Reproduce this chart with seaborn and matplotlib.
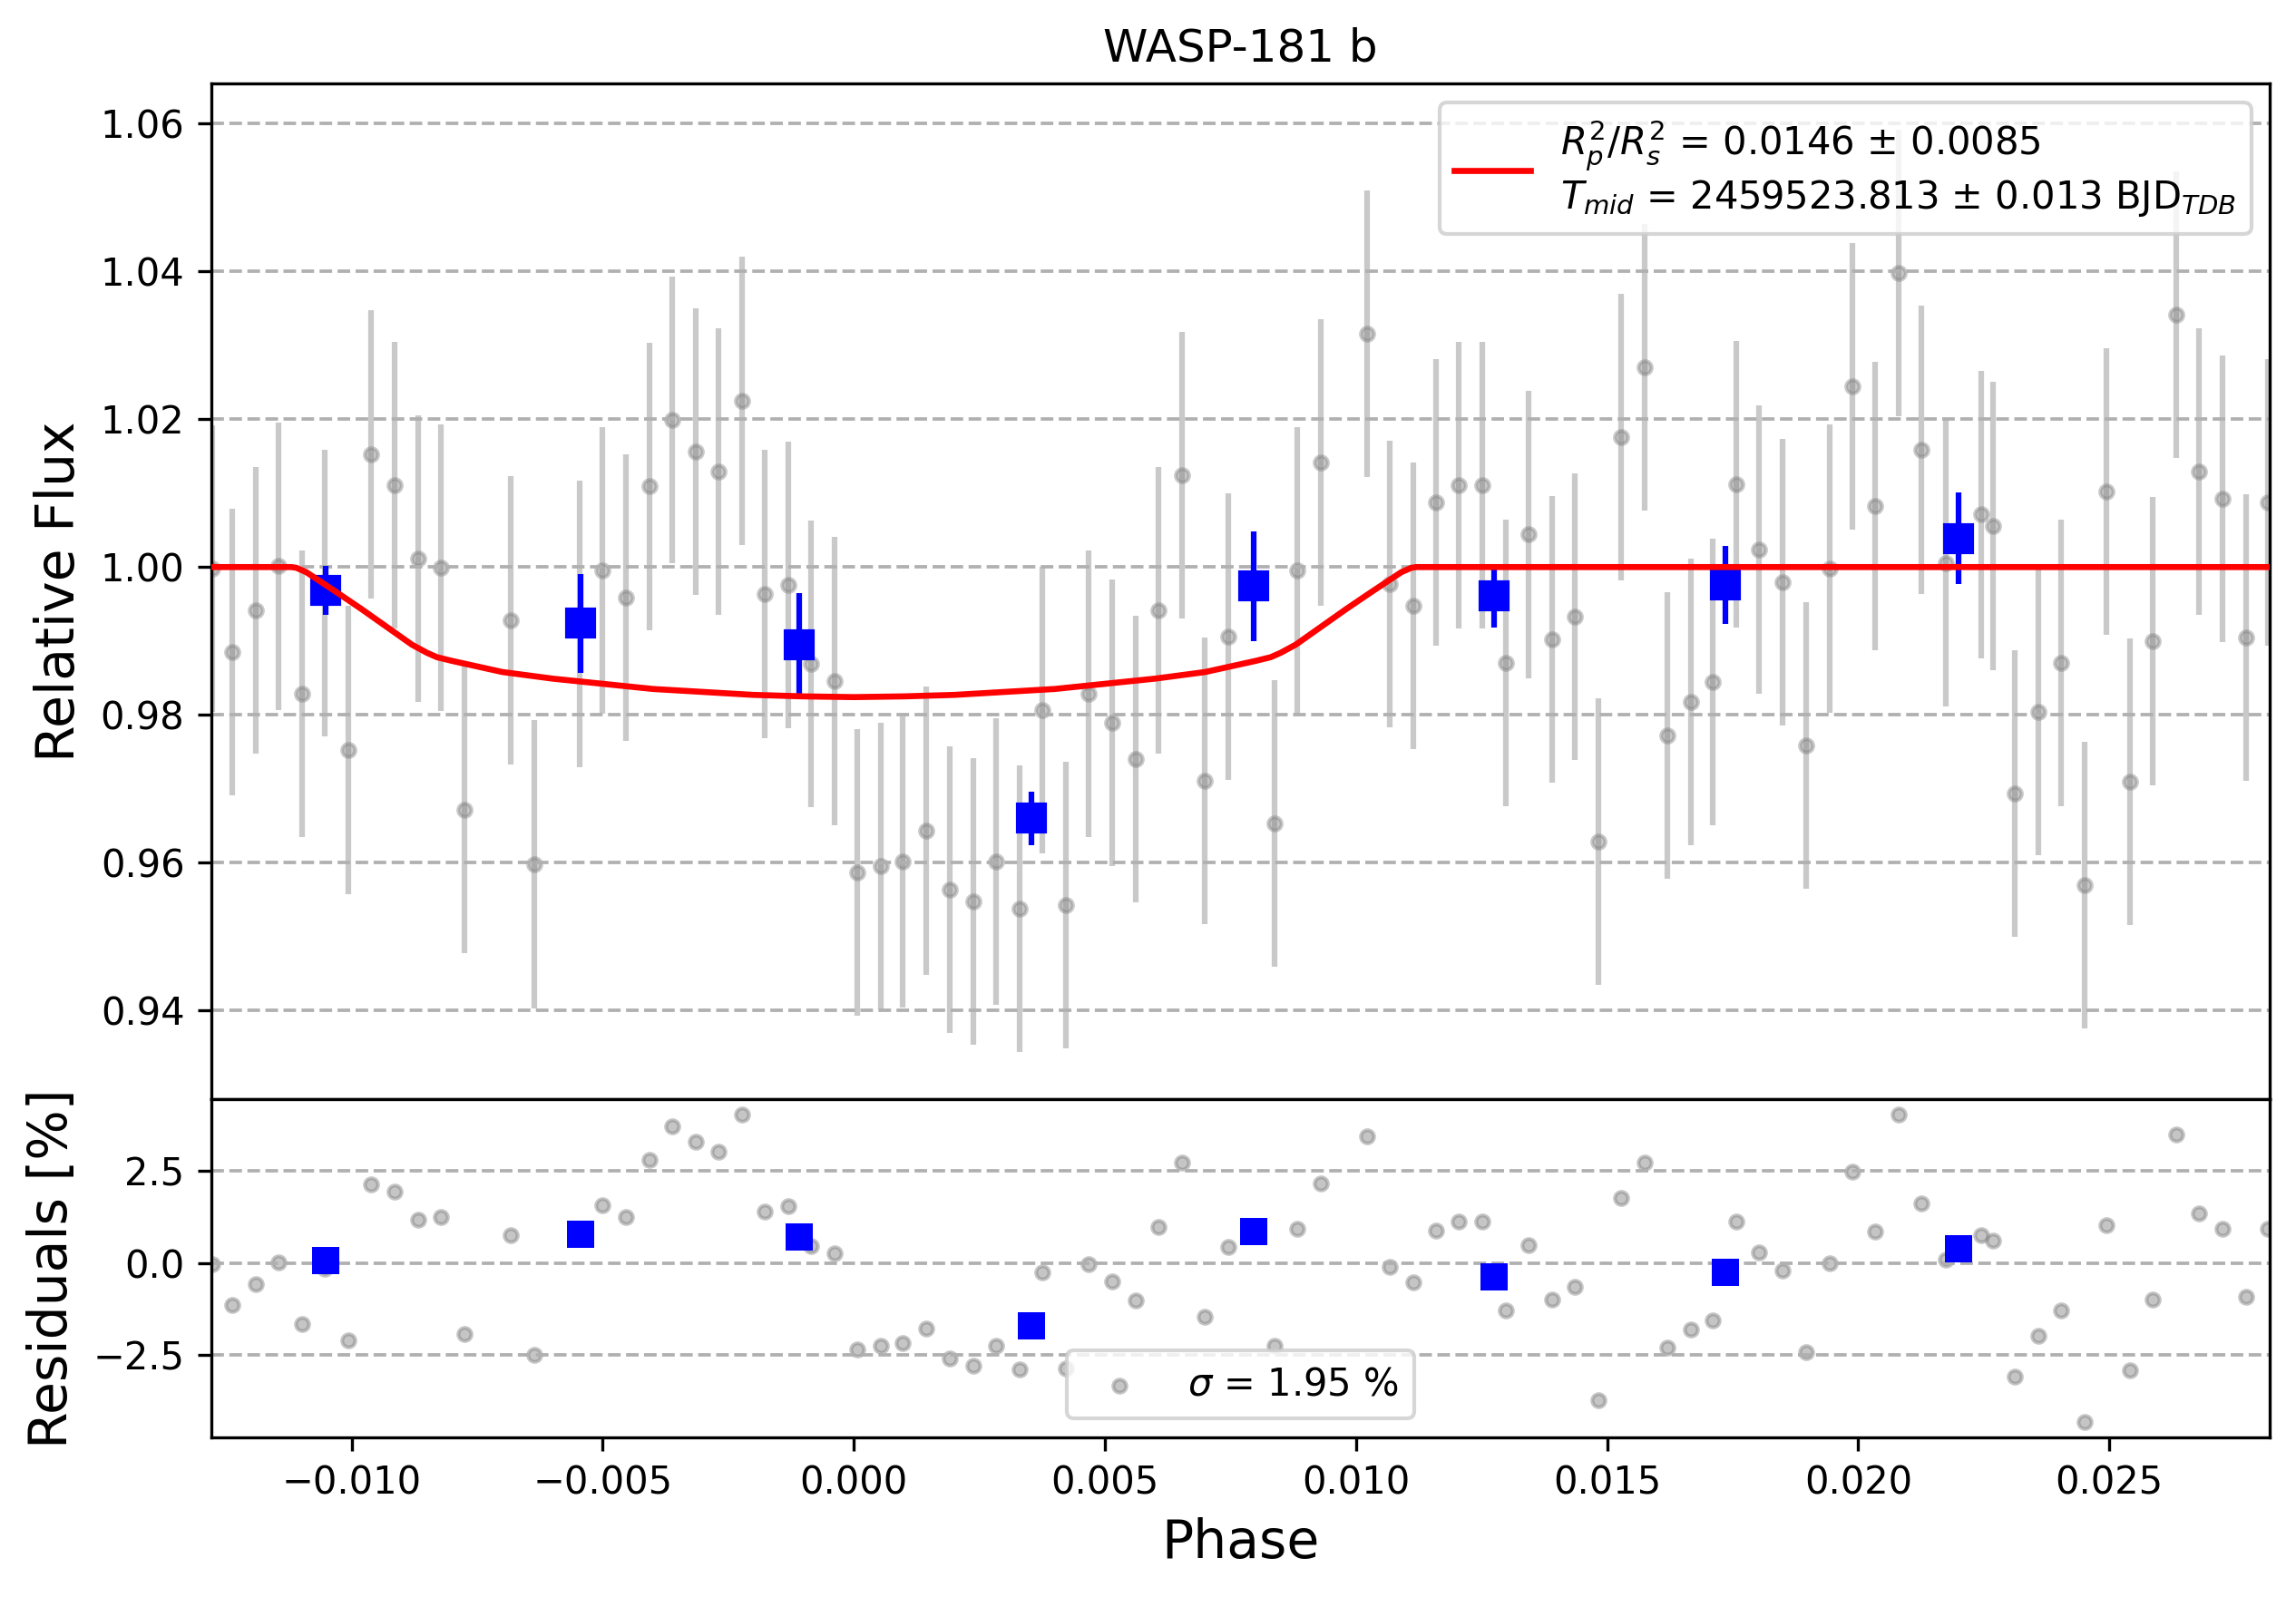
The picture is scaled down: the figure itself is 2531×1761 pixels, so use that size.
import numpy as np
import pandas as pd
import matplotlib
matplotlib.use('Agg')
import matplotlib.pyplot as plt
import seaborn as sns

# unbinned light curve
phase = [-0.01277, -0.01237, -0.01191, -0.01145, -0.01098, -0.01053, -0.01006, -0.00961,
         -0.00915, -0.00868, -0.00822, -0.00776, -0.00683, -0.00637, -0.00546, -0.00500,
         -0.00454, -0.00407, -0.00362, -0.00315, -0.00270, -0.00223, -0.00178, -0.00131,
         -0.00086, -0.00039, 0.00007, 0.00053, 0.00098, 0.00144, 0.00191, 0.00238,
         0.00283, 0.00330, 0.00375, 0.00422, 0.00468, 0.00514, 0.00561, 0.00607,
         0.00653, 0.00699, 0.00746, 0.00838, 0.00883, 0.00930, 0.01022, 0.01067,
         0.01114, 0.01159, 0.01205, 0.01251, 0.01298, 0.01344, 0.01390, 0.01436,
         0.01482, 0.01528, 0.01574, 0.01620, 0.01667, 0.01711, 0.01758, 0.01803,
         0.01850, 0.01896, 0.01943, 0.01988, 0.02034, 0.02081, 0.02126, 0.02174,
         0.02244, 0.02269, 0.02311, 0.02358, 0.02403, 0.02450, 0.02495, 0.02542,
         0.02587, 0.02634, 0.02679, 0.02726, 0.02772, 0.02816]
flux = [0.9998, 0.9885, 0.9941, 1.0001, 0.9828, 0.9965, 0.9752, 1.0153,
        1.0111, 1.0011, 0.9999, 0.9672, 0.9928, 0.9598, 0.9923, 0.9995,
        0.9959, 1.0109, 1.0199, 1.0156, 1.0129, 1.0225, 0.9964, 0.9976,
        0.9869, 0.9846, 0.9587, 0.9595, 0.9601, 0.9643, 0.9563, 0.9547,
        0.9601, 0.9538, 0.9806, 0.9543, 0.9829, 0.9789, 0.9740, 0.9941,
        1.0124, 0.9711, 0.9906, 0.9653, 0.9995, 1.0141, 1.0316, 0.9977,
        0.9948, 1.0087, 1.0111, 1.0111, 0.9870, 1.0044, 0.9902, 0.9933,
        0.9629, 1.0176, 1.0270, 0.9772, 0.9817, 0.9844, 1.0112, 1.0024,
        0.9979, 0.9759, 0.9998, 1.0245, 1.0083, 1.0398, 1.0159, 1.0005,
        1.0071, 1.0056, 0.9694, 0.9804, 0.9870, 0.9570, 1.0102, 0.9709,
        0.9900, 1.0342, 1.0129, 1.0092, 0.9905, 1.0087]
flux_err = [0.0194, 0.0194, 0.0194, 0.0195, 0.0194, 0.0194, 0.0195, 0.0195,
            0.0194, 0.0194, 0.0194, 0.0194, 0.0195, 0.0195, 0.0194, 0.0194,
            0.0194, 0.0195, 0.0194, 0.0194, 0.0194, 0.0195, 0.0195, 0.0194,
            0.0194, 0.0195, 0.0194, 0.0194, 0.0197, 0.0195, 0.0194, 0.0194,
            0.0194, 0.0194, 0.0194, 0.0194, 0.0194, 0.0194, 0.0194, 0.0194,
            0.0194, 0.0194, 0.0194, 0.0194, 0.0194, 0.0194, 0.0194, 0.0194,
            0.0194, 0.0194, 0.0194, 0.0194, 0.0194, 0.0194, 0.0194, 0.0194,
            0.0194, 0.0194, 0.0194, 0.0194, 0.0194, 0.0194, 0.0194, 0.0195,
            0.0194, 0.0194, 0.0195, 0.0194, 0.0195, 0.0194, 0.0195, 0.0194,
            0.0194, 0.0195, 0.0194, 0.0194, 0.0194, 0.0194, 0.0194, 0.0194,
            0.0195, 0.0194, 0.0194, 0.0194, 0.0194, 0.0194]
residuals = [-0.04, -1.13, -0.57, 0.02, -1.66, -0.15, -2.11, 2.12,
             1.94, 1.16, 1.24, -1.93, 0.74, -2.50, 0.78, 1.57,
             1.25, 2.79, 3.70, 3.28, 3.02, 4.01, 1.40, 1.53,
             0.45, 0.25, -2.34, -2.25, -2.18, -1.78, -2.60, -2.78,
             -2.25, -2.89, -0.25, -2.87, -0.04, -0.49, -1.02, 0.97,
             2.73, -1.45, 0.44, -2.24, 0.93, 2.16, 3.44, -0.12,
             -0.52, 0.88, 1.12, 1.12, -1.30, 0.47, -0.99, -0.66,
             -3.71, 1.77, 2.73, -2.29, -1.81, -1.55, 1.13, 0.28,
             -0.20, -2.42, -0.02, 2.48, 0.86, 4.01, 1.62, 0.08,
             0.75, 0.60, -3.07, -1.97, -1.28, -4.32, 1.03, -2.91,
             -1.00, 3.49, 1.33, 0.93, -0.93, 0.92]

# transit model curve
model_phase = [-0.0128, -0.0112, -0.0111, -0.0109, -0.0107, -0.0103, -0.0098, -0.0093,
               -0.0088, -0.0085, -0.0083, -0.0080, -0.0070, -0.0060, -0.0050, -0.0040,
               -0.0030, -0.0020, -0.0010, 0.0000, 0.0010, 0.0020, 0.0030, 0.0040,
               0.0050, 0.0060, 0.0070, 0.0080, 0.0083, 0.0085, 0.0088, 0.0093,
               0.0098, 0.0103, 0.0107, 0.0109, 0.0111, 0.0112, 0.0282]
model_flux = [1.0000, 1.0000, 0.9999, 0.9993, 0.9984, 0.9966, 0.9943, 0.9919,
              0.9895, 0.9884, 0.9878, 0.9873, 0.9858, 0.9849, 0.9842, 0.9835,
              0.9831, 0.9827, 0.9825, 0.9824, 0.9825, 0.9827, 0.9831, 0.9835,
              0.9842, 0.9849, 0.9858, 0.9873, 0.9878, 0.9884, 0.9895, 0.9919,
              0.9943, 0.9966, 0.9984, 0.9993, 0.9999, 1.0000, 1.0000]

# binned points
bin_phase = [-0.01051, -0.00545, -0.00108, 0.00354, 0.00797, 0.01275, 0.01736, 0.02199]
bin_flux = [0.9968, 0.9924, 0.9895, 0.9660, 0.9974, 0.9961, 0.9976, 1.0039]
bin_err = [0.0033, 0.0067, 0.0070, 0.0036, 0.0074, 0.0043, 0.0053, 0.0062]
bin_res = [0.07, 0.78, 0.71, -1.70, 0.86, -0.37, -0.25, 0.39]

df = pd.DataFrame({'phase': phase, 'flux': flux, 'err': flux_err, 'res': residuals})
model = pd.DataFrame({'phase': model_phase, 'flux': model_flux})
binned = pd.DataFrame({'phase': bin_phase, 'flux': bin_flux, 'err': bin_err, 'res': bin_res})

fig, (ax_lc, ax_res) = plt.subplots(2, 1, figsize=(2531 / 300, 1761 / 300), dpi=300,
                                    gridspec_kw={'height_ratios': [3, 1]})
fig.subplots_adjust(left=0.0919, right=0.9887, top=0.9475, bottom=0.0999, hspace=0)

# light curve panel
ax_lc.errorbar(df['phase'], df['flux'], yerr=df['err'], fmt='o', color='gray',
               ms=3.5, alpha=0.42, zorder=1)
sns.lineplot(data=model, x='phase', y='flux', color='red', lw=1.6, sort=False,
             estimator=None, ax=ax_lc, zorder=5,
             label='$R_p^2/R_s^2$ = 0.0146 ± 0.0085\n$T_{mid}$ = 2459523.813 ± 0.013 BJD$_{TDB}$')
ax_lc.errorbar(binned['phase'], binned['flux'], yerr=binned['err'], fmt='s', color='blue',
               ms=7, zorder=4)
ax_lc.set_xlim(-0.0128, 0.0282)
ax_lc.set_ylim(0.928, 1.0654)
ax_lc.set_yticks([0.94, 0.96, 0.98, 1.00, 1.02, 1.04, 1.06])
ax_lc.grid(axis='y', ls='--', color='#b0b0b0', lw=0.9)
ax_lc.tick_params(axis='x', bottom=False, labelbottom=False)
ax_lc.set_xlabel('')
ax_lc.set_ylabel('Relative Flux', fontsize=14)
ax_lc.set_title('WASP-181 b', fontsize=12)
ax_lc.legend(loc='upper right')

# residual panel
sns.scatterplot(data=df, x='phase', y='res', color='gray', alpha=0.45, s=12,
                edgecolor='gray', linewidth=1, ax=ax_res, zorder=1,
                label='$\\sigma$ = 1.95 %')
sns.scatterplot(data=binned, x='phase', y='res', color='blue', marker='s', s=49,
                linewidth=0, ax=ax_res, zorder=3)
ax_res.set_xlim(-0.0128, 0.0282)
ax_res.set_ylim(-4.73, 4.44)
ax_res.set_yticks([-2.5, 0.0, 2.5])
ax_res.grid(axis='y', ls='--', color='#b0b0b0', lw=0.9)
ax_res.set_xlabel('Phase', fontsize=14)
ax_res.set_ylabel('Residuals [%]', fontsize=14)
ax_res.legend(loc='lower center')

plt.savefig('out.png', dpi=300)
